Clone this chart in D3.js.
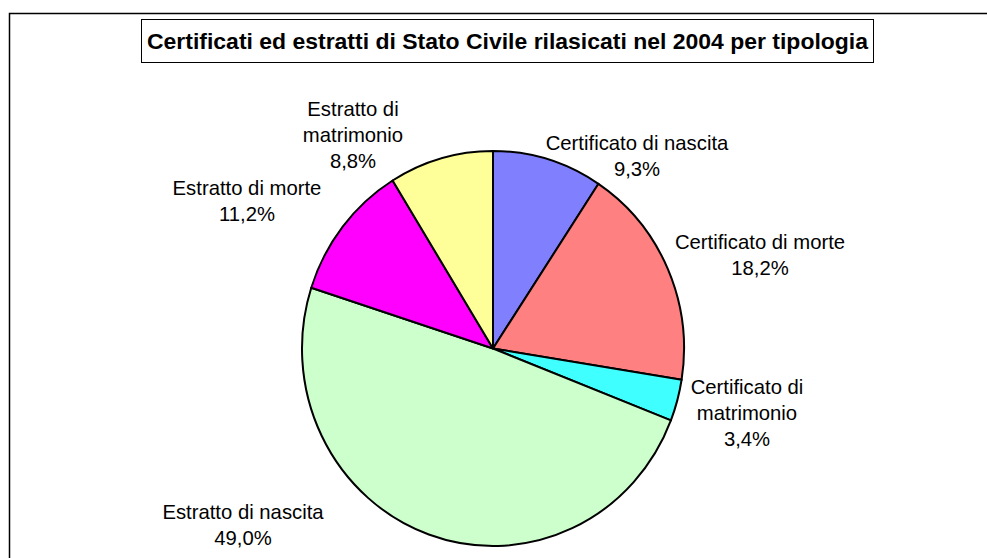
<!DOCTYPE html>
<html>
<head>
<meta charset="utf-8">
<script src="https://cdn.jsdelivr.net/npm/d3@7"></script>
<style>
  html, body { margin: 0; padding: 0; background: #fff; }
  svg { display: block; }
</style>
</head>
<body>
<svg id="chart" width="987" height="558"></svg>
<script>
// ---- data ----
const title = "Certificati ed estratti di Stato Civile rilasicati nel 2004 per tipologia";
const categories = [
  "Certificato di nascita",
  "Certificato di morte",
  "Certificato di matrimonio",
  "Estratto di nascita",
  "Estratto di morte",
  "Estratto di matrimonio"
];
const values = [9.3, 18.2, 3.4, 49.0, 11.2, 8.8];
const colors = ["#8080FF", "#FF8080", "#40FFFF", "#CCFFCC", "#FF00FF", "#FFFF99"];
// label block centre offsets from pie centre (layout)
const labelOffsets = [[144, -193], [267, -94], [254, 64], [-250, 176], [-246, -148], [-140, -214]];

// ---- layout ----
const W = 987, H = 558;
const cx = 493, cy = 348.5, rx = 191, ry = 197.5;
const font = "'Liberation Sans', Arial, sans-serif";

const svg = d3.select("#chart");
svg.append("rect").attr("width", W).attr("height", H).attr("fill", "#fff");

// outer frame
svg.append("rect")
  .attr("x", 9.5).attr("y", 13.5).attr("width", 1000).attr("height", 600)
  .attr("fill", "none").attr("stroke", "#000").attr("stroke-width", 1.5);

// title box
svg.append("rect")
  .attr("x", 141.5).attr("y", 19.5).attr("width", 732).attr("height", 43)
  .attr("fill", "#fff").attr("stroke", "#000").attr("stroke-width", 1);
svg.append("text")
  .attr("x", 507.5).attr("y", 48.5)
  .attr("text-anchor", "middle")
  .attr("font-family", font).attr("font-weight", "bold").attr("font-size", 22.5)
  .attr("textLength", 721).attr("lengthAdjust", "spacingAndGlyphs")
  .attr("fill", "#000")
  .text(title);

// pie
const pie = d3.pie().sort(null).value(d => d)(values);
const arc = d3.arc().innerRadius(0).outerRadius(rx);

const g = svg.append("g")
  .attr("transform", `translate(${cx},${cy}) scale(1,${ry / rx})`);
g.selectAll("path")
  .data(pie)
  .join("path")
  .attr("d", arc)
  .attr("fill", (d, i) => colors[i])
  .attr("stroke", "#000")
  .attr("stroke-width", 2)
  .attr("stroke-linejoin", "round")
  .attr("vector-effect", "non-scaling-stroke");

// labels
const fmt = v => v.toFixed(1).replace(".", ",") + "%";
const lineH = 26;
const lg = svg.append("g")
  .attr("font-family", font).attr("font-size", 20.3).attr("fill", "#000")
  .attr("text-anchor", "middle");
pie.forEach((d, i) => {
  const lines = categories[i].split(/ (?=matrimonio)/).concat([fmt(values[i])]);
  const [ox, oy] = labelOffsets[i];
  const x = cx + ox, y0 = cy + oy - (lines.length - 1) * lineH / 2;
  const t = lg.append("text").attr("x", x).attr("y", y0);
  lines.forEach((ln, k) => {
    t.append("tspan").attr("x", x).attr("y", y0 + k * lineH).attr("dy", "0.35em").text(ln);
  });
});
</script>
</body>
</html>
